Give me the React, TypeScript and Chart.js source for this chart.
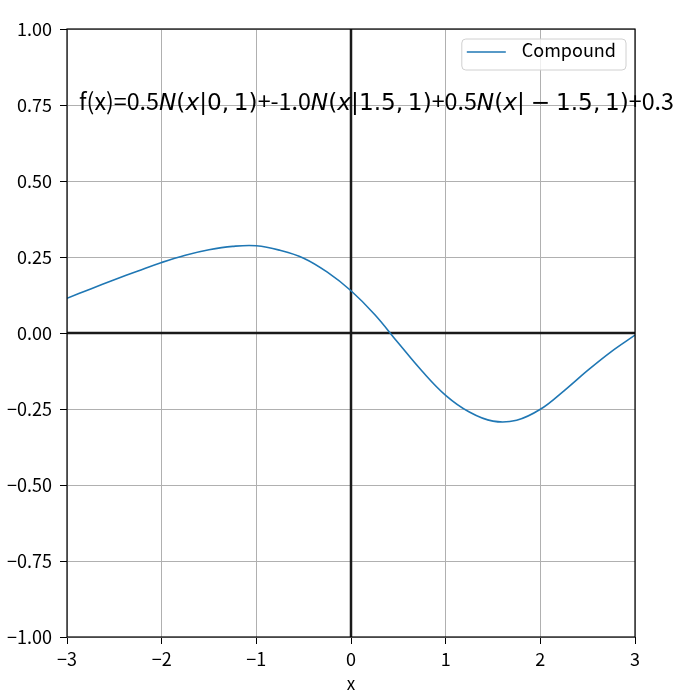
import React, { useEffect, useRef } from 'react';
import { Chart, registerables } from 'chart.js';

Chart.register(...registerables);

// values
const xValues = [-3, -2.75, -2.5, -2.25, -2, -1.75, -1.5, -1.25, -1, -0.75, -0.5, -0.25, 0, 0.25, 0.5, 0.75, 1, 1.25, 1.5, 1.75, 2, 2.25, 2.5, 2.75, 3];
const compoundValues = [0.114, 0.145, 0.175, 0.204, 0.232, 0.256, 0.274, 0.285, 0.287, 0.272, 0.246, 0.2, 0.139, 0.061, -0.033, -0.125, -0.205, -0.26, -0.29, -0.287, -0.251, -0.19, -0.123, -0.061, -0.007];
const xTicks = [-3, -2, -1, 0, 1, 2, 3];
const yTicks = [-1, -0.75, -0.5, -0.25, 0, 0.25, 0.5, 0.75, 1];
const seriesLabel = 'Compound';

// formula annotation: [text, style]
const formulaParts: [string, string][] = [
  ['f(x)=0.5', 'plain'],
  ['N', 'it'], ['(', 'math'], ['x', 'it'], ['|0,\u20091)', 'math'],
  ['+-1.0', 'plain'],
  ['N', 'it'], ['(', 'math'], ['x', 'it'], ['|1.5,\u20091)', 'math'],
  ['+0.5', 'plain'],
  ['N', 'it'], ['(', 'math'], ['x', 'it'], ['|\u2005\u2212\u20051.5,\u20091)', 'math'],
  ['+', 'plain'],
  ['0.3', 'plain'],
  ['N', 'it'], ['(', 'math'], ['x', 'it'], ['|3,\u20091)', 'math'],
];

const PLAIN = '"Noto Sans CJK JP", sans-serif';
const MATH = '"DejaVu Sans", sans-serif';

const fmt = (v: number, digits: number) => {
  const s = Math.abs(v).toFixed(digits);
  return v < 0 ? '\u2212' + s : s;
};

const partFont = (style: string, size: number) => {
  if (style === 'plain') return `${size}px ${PLAIN}`;
  if (style === 'it') return `italic ${size}px ${MATH}`;
  return `${size}px ${MATH}`;
};

const decorations = {
  id: 'decorations',
  beforeDatasetsDraw(chart: any) {
    const { ctx, chartArea: a, scales } = chart;
    const x0 = scales.x.getPixelForValue(0);
    const y0 = scales.y.getPixelForValue(0);
    ctx.save();
    ctx.strokeStyle = '#1a1a1a';
    ctx.lineWidth = 2.5;
    ctx.beginPath();
    ctx.moveTo(x0, a.top);
    ctx.lineTo(x0, a.bottom);
    ctx.moveTo(a.left, y0);
    ctx.lineTo(a.right, y0);
    ctx.stroke();
    ctx.restore();
  },
  afterDatasetsDraw(chart: any) {
    const { ctx, chartArea: a, scales } = chart;
    ctx.save();
    // spines
    ctx.strokeStyle = '#000';
    ctx.lineWidth = 1.2;
    ctx.strokeRect(a.left, a.top, a.right - a.left, a.bottom - a.top);

    // formula text, fitted so that "0.3" starts where it does in the reference
    const base = 22;
    const anchor = formulaParts.findIndex((p) => p[0] === '0.3');
    let w = 0;
    formulaParts.slice(0, anchor).forEach(([t, s]) => {
      ctx.font = partFont(s, base);
      w += ctx.measureText(t).width;
    });
    const startX = scales.x.getPixelForValue(-3) + 12;
    const size = base * (563 / w);
    let cx = startX;
    const baseline = scales.y.getPixelForValue(0.75) + 5;
    ctx.fillStyle = '#000';
    ctx.textBaseline = 'alphabetic';
    ctx.textAlign = 'left';
    formulaParts.forEach(([t, s]) => {
      ctx.font = partFont(s, size);
      ctx.fillText(t, cx, baseline);
      cx += ctx.measureText(t).width;
    });

    // legend
    ctx.font = `18px ${PLAIN}`;
    const tw = ctx.measureText(seriesLabel).width;
    const boxRight = a.right - 9;
    const boxTop = a.top + 10;
    const boxH = 31;
    const boxLeft = boxRight - (5 + 39 + 16 + tw + 10);
    ctx.beginPath();
    ctx.roundRect(boxLeft, boxTop, boxRight - boxLeft, boxH, 4);
    ctx.fillStyle = 'rgba(255,255,255,0.8)';
    ctx.fill();
    ctx.strokeStyle = '#d0d0d0';
    ctx.lineWidth = 1;
    ctx.stroke();
    ctx.strokeStyle = '#1f77b4';
    ctx.lineWidth = 1.6;
    ctx.beginPath();
    ctx.moveTo(boxLeft + 5, boxTop + 13);
    ctx.lineTo(boxLeft + 44, boxTop + 13);
    ctx.stroke();
    ctx.fillStyle = '#000';
    ctx.fillText(seriesLabel, boxLeft + 60, boxTop + 18);
    ctx.restore();
  },
};

const CompoundChart = () => {
  const chartRef = useRef<HTMLCanvasElement>(null);

  useEffect(() => {
    let chart: Chart | null = null;
    if (chartRef.current) {
      chart = new Chart(chartRef.current, {
        type: 'line',
        data: {
          datasets: [
            {
              label: seriesLabel,
              data: xValues.map((x, i) => ({ x, y: compoundValues[i] })),
              borderColor: '#1f77b4',
              borderWidth: 1.6,
              pointRadius: 0,
              tension: 0.4,
              fill: false,
            },
          ],
        },
        options: {
          animation: false,
          responsive: true,
          maintainAspectRatio: false,
          layout: { padding: { top: 29, right: 39, left: 0, bottom: 0 } },
          plugins: {
            legend: { display: false },
            tooltip: { enabled: false },
          },
          scales: {
            x: {
              type: 'linear',
              min: -3,
              max: 3,
              afterBuildTicks: (s: any) => {
                s.ticks = xTicks.map((v) => ({ value: v }));
              },
              afterFit: (s: any) => {
                s.height = 60;
              },
              ticks: {
                callback: (v: any) => fmt(Number(v), 0),
                color: '#000',
                font: { family: PLAIN, size: 18 },
                padding: 4,
                maxRotation: 0,
              },
              grid: { color: '#b0b0b0', lineWidth: 1, tickLength: 7, tickColor: '#000', tickWidth: 1 },
              border: { display: false },
              title: {
                display: true,
                text: 'x',
                color: '#000',
                font: { family: PLAIN, size: 17 },
                padding: { top: 2, bottom: 3 },
              },
            },
            y: {
              min: -1,
              max: 1,
              afterBuildTicks: (s: any) => {
                s.ticks = yTicks.map((v) => ({ value: v }));
              },
              afterFit: (s: any) => {
                s.width = 67;
              },
              ticks: {
                callback: (v: any) => fmt(Number(v), 2),
                color: '#000',
                font: { family: PLAIN, size: 18 },
                padding: 8,
              },
              grid: { color: '#b0b0b0', lineWidth: 1, tickLength: 7, tickColor: '#000', tickWidth: 1 },
              border: { display: false },
            },
          },
        },
        plugins: [decorations],
      } as any);
    }
    return () => {
      if (chart) chart.destroy();
    };
  }, []);

  return (
    <div style={{ position: 'absolute', left: 0, top: 0, width: '674px', height: '697px', background: '#fff' }}>
      <canvas ref={chartRef} />
    </div>
  );
};

export default function App() {
  return <CompoundChart />;
}
